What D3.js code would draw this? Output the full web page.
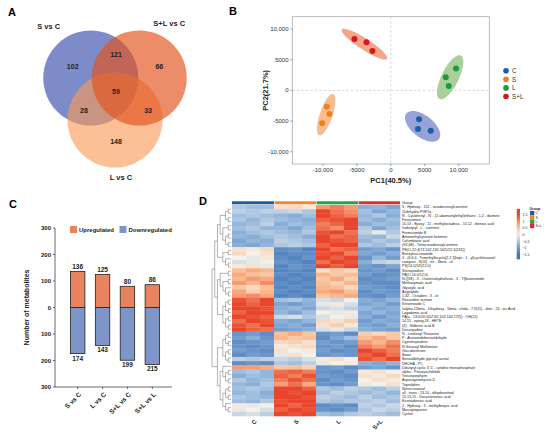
<!DOCTYPE html>
<html>
<head>
<meta charset="utf-8">
<script src="https://cdn.jsdelivr.net/npm/d3@7"></script>
<style>
  body { margin: 0; background: #fff; }
  svg { display: block; font-family: Arial, "Liberation Sans", sans-serif; }
</style>
</head>
<body>
<div id="chart"></div>
<script>
// ---- data ----
// A: venn
const vennSets = ["S vs C", "S+L vs C", "L vs C"]
const vennOnly = [102, 66, 148]          // S, S+L, L alone
const vennPairs = [121, 28, 33]          // S&S+L, S&L, S+L&L
const vennAll = 59

// B: PCA scores
const pcaGroups = ["C", "S", "L", "S+L"]
const pcaColors = ["#1b5ea8", "#f0801c", "#1f9a3a", "#d8161d"]
const pcaFills = ["#97a3d6", "#f9bc8e", "#a9cf9c", "#f2a68a"]
const pc1 = [[4160, 4010, 5880], [-9410, -9030, -10100], [9600, 8090, 8530], [-5350, -3590, -2700]]
const pc2 = [[-4720, -6300, -6580], [-2670, -3860, -5380], [3580, 2120, 700], [8350, 7820, 6400]]

// C: differential metabolites
const comparisons = ["S vs C", "L vs C", "S+L vs C", "S+L vs L"]
const upregulated = [136, 125, 80, 86]
const downregulated = [174, 143, 199, 215]

// D: heatmap
const heatGroups = ["C", "S", "L", "S+L"]
const heatGroupColors = ["#1d5c9c", "#f0852d", "#2e9e48", "#d62f2f"]
const samples = ["C1", "C2", "C3", "S1", "S2", "S3", "L1", "L2", "L3", "SL1", "SL2", "SL3"]
const metabolites = [
  "3 - Hydroxy - 11Z - octadecenoylcarnitine", "11dehydro-PGF2a",
  "N - Cyclohexyl - N' - (2-adamantylethyl)ethane - 1,2 - diamine", "Fexaramine",
  "10,13 - Epoxy - 11 - methyloctadeca - 10,12 - dienoic acid", "Isobutyryl - L - carnitine",
  "Formicamide B", "Aminoethylcysteine ketimine", "Columbianic acid",
  "(9Z,6E) - Tetracosadienoylcarnitine", "PE(O-22:4(7Z,10Z,13Z,16Z)/22:1(13Z))",
  "Benzylsuccinamide", "3 - (6,6,4 - Trimethylbicyclo[2.2.1]hept - 1 - yl)cyclohexanol",
  "campest - 8(14) - en - 3beta - ol", "PS(14:1(9Z)/12:0)", "Stenoprodine",
  "PA(O-16:0/12:0)", "N-[(3S) - 2 - Oxotetrahydrofuran - 3 - Yl]butanamide",
  "Methoxymalic acid", "Glyoxylic acid", "Angelylide", "1,3Z - Octadien - 3 - ol",
  "Rosaridine acetate", "Kinsenoside C",
  "5alpha,12beta - Dihydroxy - 5beta - chola - 7,9(11) - dien - 24 - oic Acid",
  "Lagodemic acid", "PA(a - 13:0/20:5(5Z,8Z,10Z,14Z,17Z)) - OH(12)",
  "14,15 - epoxy,18 - HETE", "(Z) - Stilbenic acid B", "Desoxyadine",
  "N - Linoleoyl Threonine", "P - Acetamidobenzaldehyde", "Cyproheptadine",
  "N-Stearoyl Methionine", "Glucoberteroin", "Ibane", "Benzaldehyde glyceryl acetal",
  "DHCHA - PC", "Dibutyryl cyclic 3',5' - cytidine monophosphate",
  "alpha - Peroxyachifolide", "Tenuisporphyrin", "Asparaginomycine D", "Triprolidine",
  "Noreicosantail", "all - trans - 13,14 - dihydroretinol", "15,13,15 - Docosatrienoic acid",
  "Eicosadienoic acid", "2 - Hydroxy - 3 - methylbutyric acid", "Mercaptopurine", "Cyclen"
]
const heatValues = [
  [-0.5,-0.6,-0.6, 0.2,0.3,0.1, 0.9,1.1,0.9, -0.8,-0.7,-0.9],
  [-0.4,-0.5,-0.4, -0.4,-0.3,-0.5, 1.5,1.2,1.0, -0.6,-0.9,-0.7],
  [-0.6,-0.5,-0.6, -0.7,-0.8,-0.6, 1.6,1.3,1.1, -0.7,-0.5,-0.8],
  [-0.5,-0.7,-0.5, -0.6,-0.7,-0.8, 1.3,1.4,1.6, -0.6,-0.8,-0.6],
  [-0.7,-0.6,-0.4, -0.8,-0.6,-0.7, 1.1,1.3,1.7, -0.8,-0.6,-0.7],
  [-0.6,-0.5,-0.7, -0.7,-0.9,-0.6, 1.2,1.0,1.5, -0.5,-0.9,-0.6],
  [-0.8,-0.6,-0.5, -0.6,-0.7,-0.5, 1.4,1.6,1.2, -0.4,-0.1,-0.5],
  [-0.7,-0.8,-0.6, -0.5,-0.6,-0.8, 1.5,1.2,1.3, -0.6,-0.7,-0.3],
  [-0.9,-0.7,-0.8, -0.4,-0.5,-0.6, 1.7,1.4,1.3, -0.7,-0.5,-0.6],
  [-0.8,-0.9,-0.7, -0.5,-0.4,-0.5, 1.3,1.6,1.5, -0.5,-0.6,-0.4],
  [0.2,0.1,0.3, -1.2,-1.1,-1.3, 1.6,1.2,1.3, -1.0,-0.9,-1.1],
  [0.3,0.0,0.2, -1.3,-1.2,-1.2, 1.4,1.6,1.1, -0.9,-1.0,-0.8],
  [0.0,-0.1,0.1, -1.2,-1.3,-1.1, 1.7,1.3,1.5, -1.1,-0.7,-1.0],
  [-0.2,-0.1,0.0, -1.1,-1.2,-1.3, 1.2,1.5,1.4, -0.8,-0.4,-0.3],
  [0.1,0.2,-0.1, -1.3,-1.1,-1.2, 1.5,1.3,1.6, -1.0,-1.1,-0.9],
  [0.6,0.8,0.7, -1.3,-1.2,-1.3, 0.2,0.5,0.3, -1.1,-1.0,-1.2],
  [0.8,0.6,0.5, -1.2,-1.3,-1.2, 0.7,0.5,0.6, -1.0,-1.2,-1.1],
  [0.7,0.9,0.8, -1.3,-1.2,-1.3, 0.5,0.8,0.4, -1.2,-1.1,-1.0],
  [0.9,0.7,1.0, -1.2,-1.3,-1.2, 0.6,0.4,0.7, -1.1,-1.2,-1.2],
  [0.5,0.3,0.6, -1.3,-1.2,-1.3, 0.7,0.6,0.3, -1.0,-1.1,-1.2],
  [0.8,0.4,0.7, -1.2,-1.3,-1.2, 0.8,0.9,0.6, -1.2,-1.0,-1.1],
  [0.9,1.0,0.8, -1.3,-1.2,-1.3, 0.5,0.7,0.8, -1.1,-1.2,-1.0],
  [1.4,1.2,1.5, -0.6,-0.5,-0.7, -0.2,-0.3,0.0, -0.8,-0.9,-0.7],
  [1.6,1.3,1.7, -0.9,-1.0,-0.8, -0.1,0.1,-0.2, -0.9,-0.8,-1.0],
  [1.5,1.7,1.4, -0.8,-0.7,-0.9, -0.3,-0.2,-0.4, -0.7,-0.9,-0.8],
  [1.3,1.5,1.6, -0.7,-0.9,-0.6, 0.0,-0.1,0.1, -0.9,-0.7,-0.9],
  [1.6,1.4,1.3, -0.3,-0.2,-0.5, -0.2,0.0,-0.1, -0.8,-1.0,-0.8],
  [1.2,1.5,1.4, -0.8,-0.9,-0.7, 0.3,0.2,0.4, -1.0,-0.8,-0.9],
  [1.4,1.2,1.5, -0.9,-0.8,-1.0, 0.2,0.4,0.1, -0.9,-1.0,-0.8],
  [1.7,1.3,1.2, -1.0,-0.9,-0.8, -0.2,-0.1,-0.3, -0.8,-0.9,-1.0],
  [-1.1,-1.0,-1.2, 0.6,0.8,0.5, -1.1,-1.0,-1.2, 0.4,0.3,0.5],
  [-1.0,-0.8,-1.1, 0.7,0.5,0.6, -1.2,-0.9,-0.6, 0.6,0.8,0.5],
  [-1.2,-1.1,-1.0, 0.3,0.4,0.2, -1.0,-1.1,-1.0, 0.9,0.7,1.0],
  [-1.1,-1.2,-1.1, 0.1,0.2,0.3, -1.1,-1.0,-1.2, 1.1,0.9,1.2],
  [-1.0,-1.1,-1.2, 0.2,0.0,0.1, -1.0,-1.2,-1.1, 1.5,1.3,1.1],
  [-1.2,-1.0,-1.1, -0.1,0.2,0.0, -1.1,-1.0,-1.1, 1.3,1.6,1.2],
  [-0.4,-0.5,-0.4, -0.3,-0.4,-0.2, 0.1,0.2,0.0, 1.4,1.2,1.5],
  [-1.2,-1.1,-1.2, -0.5,-0.6,-0.4, -0.1,0.0,0.1, -0.8,-0.9,-0.7],
  [0.9,0.9,0.8, 0.5,0.6,0.4, -1.1,-1.0,-1.2, -1.0,-0.9,-1.1],
  [-0.6,-0.5,-0.7, 1.2,1.3,1.1, -1.1,-1.2,-1.0, 0.1,0.2,0.0],
  [-0.8,-0.6,-0.7, 1.3,1.1,1.4, -1.0,-1.1,-1.2, 0.2,0.1,0.3],
  [-0.5,-0.7,-0.6, 1.1,1.4,1.2, -1.2,-1.0,-1.1, 0.0,0.2,0.1],
  [-0.7,-0.8,-0.5, 0.9,1.2,0.8, -1.1,-1.2,-1.0, 0.1,0.0,0.2],
  [-0.6,-0.5,-0.6, 1.5,1.7,1.3, -0.5,-0.6,-0.4, -0.5,-0.6,-0.4],
  [-0.7,-0.6,-0.8, 1.6,1.4,1.7, -0.6,-0.4,-0.5, -0.6,-0.5,-0.7],
  [-0.5,-0.6,-0.7, 1.7,1.5,1.4, -0.4,-0.5,-0.6, -0.4,-0.6,-0.5],
  [-0.6,-0.7,-0.5, 1.4,1.6,1.8, -0.5,-0.6,-0.5, -0.5,-0.4,-0.6],
  [0.1,-0.1,0.0, 1.5,1.3,1.6, -1.2,-1.1,-1.2, -0.4,-0.5,-0.3],
  [-0.1,0.0,-0.2, 1.3,1.6,1.4, -1.1,-1.2,-1.0, -0.5,-0.3,-0.4],
  [-0.3,-0.2,-0.4, 1.6,1.4,1.5, -0.6,-0.7,-0.5, -0.4,-0.5,-0.6]
]
// row clustering (leaf = row index)
const rowTree = [
  [
    [[[[0, 1], [2, 3]], [[4, 5], [[6, 7], [8, 9]]]], [[10, 11], [12, [13, 14]]]],
    [[[15, 16], [[17, 18], [19, [20, 21]]]], [[[22, 23], [24, 25]], [[26, 27], [28, 29]]]]
  ],
  [
    [[[30, 31], [32, 33]], [[34, 35], [36, 37]]],
    [[38, [[39, 40], [41, 42]]], [[[43, 44], [45, 46]], [47, [48, 49]]]]
  ]
]
const legendTicks = [1.5, 1, 0.5, 0, -0.5, -1, -1.5]

// ---- chart ----
const svg = d3.select("#chart").append("svg")
  .attr("width", 550)
  .attr("height", 434)

svg.selectAll("text.letter")
  .data([["A", 8, 16], ["B", 229, 15], ["C", 9, 208], ["D", 199, 205]])
  .join("text")
    .attr("class", "letter")
    .attr("x", d => d[1])
    .attr("y", d => d[2])
    .attr("font-size", 11)
    .attr("font-weight", "bold")
    .text(d => d[0])

// ===== A: venn =====
const rad = Math.PI / 180
const vc = { x: 115, y: 92 }
const setAngles = [210, 330, 90]
const polar = (a, r) => [vc.x + r * Math.cos(a * rad), vc.y + r * Math.sin(a * rad)]
const setCenters = setAngles.map(a => polar(a, 28))
const vennFill = ["#7d8cc8", "#e3541f", "#f89955"]
const vennOpacity = [1, 0.67, 0.62]

// draw order: S, L, S+L
svg.append("g").selectAll("circle")
  .data([0, 2, 1])
  .join("circle")
    .attr("cx", i => setCenters[i][0])
    .attr("cy", i => setCenters[i][1])
    .attr("r", 47.5)
    .attr("fill", i => vennFill[i])
    .attr("fill-opacity", i => vennOpacity[i])

const vennLabels = [
  ...vennOnly.map((v, i) => ({ v, p: polar(setAngles[i], 50) })),
  ...vennPairs.map((v, i) => ({ v, p: polar(setAngles[[2, 1, 0][i]] + 180, 37) })),
  { v: vennAll, p: [vc.x, vc.y] }
]
svg.append("g")
    .attr("font-size", 7)
    .attr("font-weight", "bold")
    .attr("text-anchor", "middle")
    .attr("fill", "#222")
  .selectAll("text")
  .data(vennLabels)
  .join("text")
    .attr("x", d => d.p[0] + 1)
    .attr("y", d => d.p[1])
    .attr("dy", "0.35em")
    .text(d => d.v)

const setLabelOffset = [[-42, -52], [30, -55], [6, 57]]
svg.append("g")
    .attr("font-size", 7.5)
    .attr("font-weight", "bold")
    .attr("text-anchor", "middle")
    .attr("fill", "#222")
  .selectAll("text")
  .data(vennSets)
  .join("text")
    .attr("x", (d, i) => setCenters[i][0] + setLabelOffset[i][0])
    .attr("y", (d, i) => setCenters[i][1] + setLabelOffset[i][1])
    .attr("dy", "0.35em")
    .text(d => d)

// ===== B: PCA =====
const px = d3.scaleLinear().domain([-14500, 14500]).range([292.3, 489.3])
const py = d3.scaleLinear().domain([-12000, 12000]).range([164, 16.7])
const fmtPca = d => (Math.abs(d) >= 10000 ? d3.format(",")(d) : String(d)).replace("−", "-")

const gB = svg.append("g")
gB.append("line")
  .attr("x1", px(0)).attr("x2", px(0)).attr("y1", py.range()[1]).attr("y2", py.range()[0])
  .attr("stroke", "#ccc").attr("stroke-width", 0.8).attr("stroke-dasharray", "2.5,2")
gB.append("line")
  .attr("x1", px.range()[0]).attr("x2", px.range()[1]).attr("y1", py(0)).attr("y2", py(0))
  .attr("stroke", "#ccc").attr("stroke-width", 0.8).attr("stroke-dasharray", "2.5,2")

function ellipse(xs, ys, k) {
  const n = xs.length, mx = d3.mean(xs), my = d3.mean(ys)
  let sxx = 0, syy = 0, sxy = 0
  for (let i = 0; i < n; i++) {
    sxx += (xs[i] - mx) ** 2
    syy += (ys[i] - my) ** 2
    sxy += (xs[i] - mx) * (ys[i] - my)
  }
  sxx /= n - 1; syy /= n - 1; sxy /= n - 1
  const tr = sxx + syy, det = sxx * syy - sxy * sxy
  const disc = Math.sqrt(Math.max(tr * tr / 4 - det, 0))
  const l1 = tr / 2 + disc, l2 = Math.max(tr / 2 - disc, 0)
  const th = Math.atan2(l1 - sxx, sxy)
  return d3.range(0, 361, 5).map(t => {
    const u = k * Math.sqrt(l1) * Math.cos(t * rad), v = k * Math.sqrt(l2) * Math.sin(t * rad)
    return [mx + u * Math.cos(th) - v * Math.sin(th), my + u * Math.sin(th) + v * Math.cos(th)]
  })
}
const line = d3.line().x(d => px(d[0])).y(d => py(d[1])).curve(d3.curveBasisClosed)

gB.append("g").selectAll("path")
  .data(pcaGroups)
  .join("path")
    .attr("d", (g, i) => line(ellipse(pc1[i], pc2[i], 2.5)))
    .attr("fill", (g, i) => pcaFills[i])

pcaGroups.forEach((g, i) => {
  gB.append("g").selectAll("circle")
    .data(pc1[i])
    .join("circle")
      .attr("cx", d => px(d))
      .attr("cy", (d, j) => py(pc2[i][j]))
      .attr("r", 3)
      .attr("fill", pcaColors[i])
})

gB.append("rect")
  .attr("x", px.range()[0]).attr("y", py.range()[1])
  .attr("width", px.range()[1] - px.range()[0])
  .attr("height", py.range()[0] - py.range()[1])
  .attr("fill", "none").attr("stroke", "#aaa").attr("stroke-width", 0.8)

const pcaTicks = [-10000, -5000, 0, 5000, 10000]
const axB = svg.append("g").attr("font-size", 6).attr("fill", "#333")
axB.selectAll("text.xt").data(pcaTicks).join("text")
  .attr("class", "xt")
  .attr("x", d => px(d)).attr("y", 171.5)
  .attr("text-anchor", "middle")
  .text(fmtPca)
axB.selectAll("line.xt").data(pcaTicks).join("line")
  .attr("class", "xt")
  .attr("x1", d => px(d)).attr("x2", d => px(d)).attr("y1", 164).attr("y2", 166)
  .attr("stroke", "#666").attr("stroke-width", 0.6)
axB.selectAll("text.yt").data(pcaTicks).join("text")
  .attr("class", "yt")
  .attr("x", 288.5).attr("y", d => py(d)).attr("dy", "0.35em")
  .attr("text-anchor", "end")
  .text(fmtPca)
axB.selectAll("line.yt").data(pcaTicks).join("line")
  .attr("class", "yt")
  .attr("x1", 290.3).attr("x2", 292.3).attr("y1", d => py(d)).attr("y2", d => py(d))
  .attr("stroke", "#666").attr("stroke-width", 0.6)

svg.append("text")
  .attr("x", px(0)).attr("y", 183)
  .attr("text-anchor", "middle").attr("font-size", 7.5).attr("font-weight", "bold").attr("fill", "#222")
  .text("PC1(40.5%)")
svg.append("text")
  .attr("transform", `translate(268,${py(0)}) rotate(-90)`)
  .attr("text-anchor", "middle").attr("font-size", 7.5).attr("font-weight", "bold").attr("fill", "#222")
  .text("PC2(21.7%)")

const legB = svg.append("g").selectAll("g")
  .data(pcaGroups)
  .join("g")
    .attr("transform", (d, i) => `translate(506,${70.7 + i * 8.6})`)
legB.append("circle").attr("r", 2.8).attr("fill", (d, i) => pcaColors[i])
legB.append("text").attr("x", 6).attr("dy", "0.35em").attr("font-size", 6.3).attr("fill", "#333").text(d => d)

// ===== C: up/down bars =====
const cx = d3.scaleBand().domain(comparisons).range([60, 170]).padding(0.42)
const cy = d3.scaleLinear().domain([-300, 300]).range([387, 228])
const upColor = "#e8835f", downColor = "#7d95c9"
const gC = svg.append("g")

gC.selectAll("rect.up").data(comparisons).join("rect")
  .attr("class", "up")
  .attr("x", d => cx(d)).attr("width", cx.bandwidth())
  .attr("y", (d, i) => cy(upregulated[i]))
  .attr("height", (d, i) => cy(0) - cy(upregulated[i]))
  .attr("fill", upColor).attr("stroke", "#222").attr("stroke-width", 0.8)
gC.selectAll("rect.down").data(comparisons).join("rect")
  .attr("class", "down")
  .attr("x", d => cx(d)).attr("width", cx.bandwidth())
  .attr("y", cy(0))
  .attr("height", (d, i) => cy(-downregulated[i]) - cy(0))
  .attr("fill", downColor).attr("stroke", "#222").attr("stroke-width", 0.8)

const lblC = gC.append("g").attr("font-size", 6.5).attr("font-weight", "bold")
  .attr("text-anchor", "middle").attr("fill", "#222")
lblC.selectAll("text.up").data(comparisons).join("text")
  .attr("class", "up")
  .attr("x", d => cx(d) + cx.bandwidth() / 2)
  .attr("y", (d, i) => cy(upregulated[i]) - 2.5)
  .text((d, i) => upregulated[i])
lblC.selectAll("text.down").data(comparisons).join("text")
  .attr("class", "down")
  .attr("x", d => cx(d) + cx.bandwidth() / 2)
  .attr("y", (d, i) => cy(-downregulated[i]) + 7)
  .text((d, i) => downregulated[i])

// axes
gC.append("path")
  .attr("d", `M55,${cy(300)}V${cy(-300)}H172`)
  .attr("fill", "none").attr("stroke", "#444").attr("stroke-width", 0.8)
const cTicks = d3.range(-300, 301, 100)
gC.selectAll("line.yt").data(cTicks).join("line")
  .attr("class", "yt")
  .attr("x1", 53).attr("x2", 55).attr("y1", d => cy(d)).attr("y2", d => cy(d))
  .attr("stroke", "#444").attr("stroke-width", 0.8)
gC.selectAll("text.yt").data(cTicks).join("text")
  .attr("class", "yt")
  .attr("x", 51).attr("y", d => cy(d)).attr("dy", "0.35em")
  .attr("text-anchor", "end").attr("font-size", 6).attr("font-weight", "bold").attr("fill", "#222")
  .text(d => Math.abs(d))
gC.selectAll("line.xt").data(comparisons).join("line")
  .attr("class", "xt")
  .attr("x1", d => cx(d) + cx.bandwidth() / 2).attr("x2", d => cx(d) + cx.bandwidth() / 2)
  .attr("y1", cy(-300)).attr("y2", cy(-300) + 2)
  .attr("stroke", "#444").attr("stroke-width", 0.8)
gC.selectAll("text.xt").data(comparisons).join("text")
  .attr("class", "xt")
  .attr("transform", d => `translate(${cx(d) + cx.bandwidth() / 2 + 4},${cy(-300) + 8}) rotate(-45)`)
  .attr("text-anchor", "end").attr("font-size", 6.5).attr("font-weight", "bold").attr("fill", "#222")
  .text(d => d)
gC.append("text")
  .attr("transform", `translate(29,${cy(0)}) rotate(-90)`)
  .attr("text-anchor", "middle").attr("font-size", 7).attr("font-weight", "bold").attr("fill", "#222")
  .text("Number of metabolites")

const legC = gC.append("g").selectAll("g")
  .data([["Upregulated", upColor, 70], ["Downregulated", downColor, 119.5]])
  .join("g")
    .attr("transform", d => `translate(${d[2]},226)`)
legC.append("rect").attr("width", 7).attr("height", 7).attr("fill", d => d[1])
legC.append("text").attr("x", 9).attr("y", 5.6)
  .attr("font-size", 6).attr("font-weight", "bold").attr("fill", "#222").text(d => d[0])

// ===== D: heatmap =====
const hx = d3.scaleBand().domain(samples).range([232, 400])
const hy = d3.scaleBand().domain(d3.range(metabolites.length)).range([205, 416])
const heatColor = d3.scaleLinear()
  .domain([-1.5, -0.7, 0, 0.7, 1.5])
  .range(["#3f74b6", "#93b6dc", "#f4f1ea", "#fab88a", "#e8452c"])
  .clamp(true)
const sampleGroup = s => Math.floor(samples.indexOf(s) / 3)

const gD = svg.append("g")
gD.selectAll("g.row").data(heatValues).join("g")
  .attr("class", "row")
  .selectAll("rect")
  .data((row, r) => row.map((v, c) => ({ r, c, v })))
  .join("rect")
    .attr("x", d => hx(samples[d.c]))
    .attr("y", d => hy(d.r))
    .attr("width", hx.bandwidth() + 0.3)
    .attr("height", hy.bandwidth() + 0.3)
    .attr("fill", d => heatColor(d.v))

// group bar
gD.selectAll("rect.grp").data(heatGroups).join("rect")
  .attr("class", "grp")
  .attr("x", (g, i) => hx(samples[i * 3]) + (i ? 0.6 : 0))
  .attr("width", (g, i) => hx.bandwidth() * 3 - (i ? 0.6 : 0))
  .attr("y", 201.3).attr("height", 3)
  .attr("fill", (g, i) => heatGroupColors[i])

// row labels
gD.append("text")
  .attr("x", 402).attr("y", 202.8).attr("dy", "0.35em")
  .attr("font-size", 3.8).attr("fill", "#222").text("Group")
gD.append("g").attr("font-size", 3.6).attr("fill", "#222")
  .selectAll("text").data(metabolites).join("text")
    .attr("x", 402)
    .attr("y", (d, i) => hy(i) + hy.bandwidth() / 2)
    .attr("dy", "0.35em")
    .text(d => d)

// column labels
gD.selectAll("text.col").data(heatGroups).join("text")
  .attr("class", "col")
  .attr("transform", (g, i) => `translate(${hx(samples[i * 3]) + hx.bandwidth() * 1.5 + 4},422) rotate(-45)`)
  .attr("text-anchor", "end").attr("font-size", 6).attr("font-weight", "bold").attr("fill", "#222")
  .text(g => g)

// dendrogram
const toHier = node => Array.isArray(node) ? { children: node.map(toHier) } : { leaf: node }
const root = d3.hierarchy(toHier(rowTree))
d3.cluster().separation(() => 1).size([hy.step() * (metabolites.length - 1), 19])(root)
const dTop = hy(0) + hy.bandwidth() / 2
const dx = d => 212 + d.y
const dyy = d => dTop + d.x
gD.append("g")
    .attr("fill", "none").attr("stroke", "#555").attr("stroke-width", 0.45)
  .selectAll("path")
  .data(root.links())
  .join("path")
    .attr("d", l => `M${dx(l.source)},${dyy(l.source)}V${dyy(l.target)}H${dx(l.target)}`)

// colour key
const ky = d3.scaleLinear().domain([-1.5, 1.5]).range([254.7, 214.8])
const grad = svg.append("defs").append("linearGradient")
  .attr("id", "hgrad").attr("x1", 0).attr("x2", 0).attr("y1", 1).attr("y2", 0)
const kDomain = [-1.85, 1.95]
grad.selectAll("stop").data(d3.range(0, 1.001, 0.1)).join("stop")
  .attr("offset", t => t)
  .attr("stop-color", t => heatColor(kDomain[0] + t * (kDomain[1] - kDomain[0])))
gD.append("rect")
  .attr("x", 516.7).attr("width", 3.3)
  .attr("y", ky(kDomain[1])).attr("height", ky(kDomain[0]) - ky(kDomain[1]))
  .attr("fill", "url(#hgrad)")
gD.append("g").attr("font-size", 3.6).attr("fill", "#333")
  .selectAll("text").data(legendTicks).join("text")
    .attr("x", 522.5).attr("y", d => ky(d)).attr("dy", "0.35em")
    .text(d => String(d).replace("-", "\u2212"))

gD.append("text").attr("x", 529.5).attr("y", 209.5).attr("font-size", 3.6).attr("font-weight", "bold").attr("fill", "#222").text("Group")
const legD = gD.append("g").selectAll("g").data(heatGroups).join("g")
  .attr("transform", (g, i) => `translate(530,${211 + i * 4.3})`)
legD.append("rect").attr("width", 4.3).attr("height", 4.3).attr("fill", (g, i) => heatGroupColors[i])
legD.append("text").attr("x", 5.6).attr("y", 2.15).attr("dy", "0.35em").attr("font-size", 3.4).attr("fill", "#222").text(g => g)
</script>
</body>
</html>
